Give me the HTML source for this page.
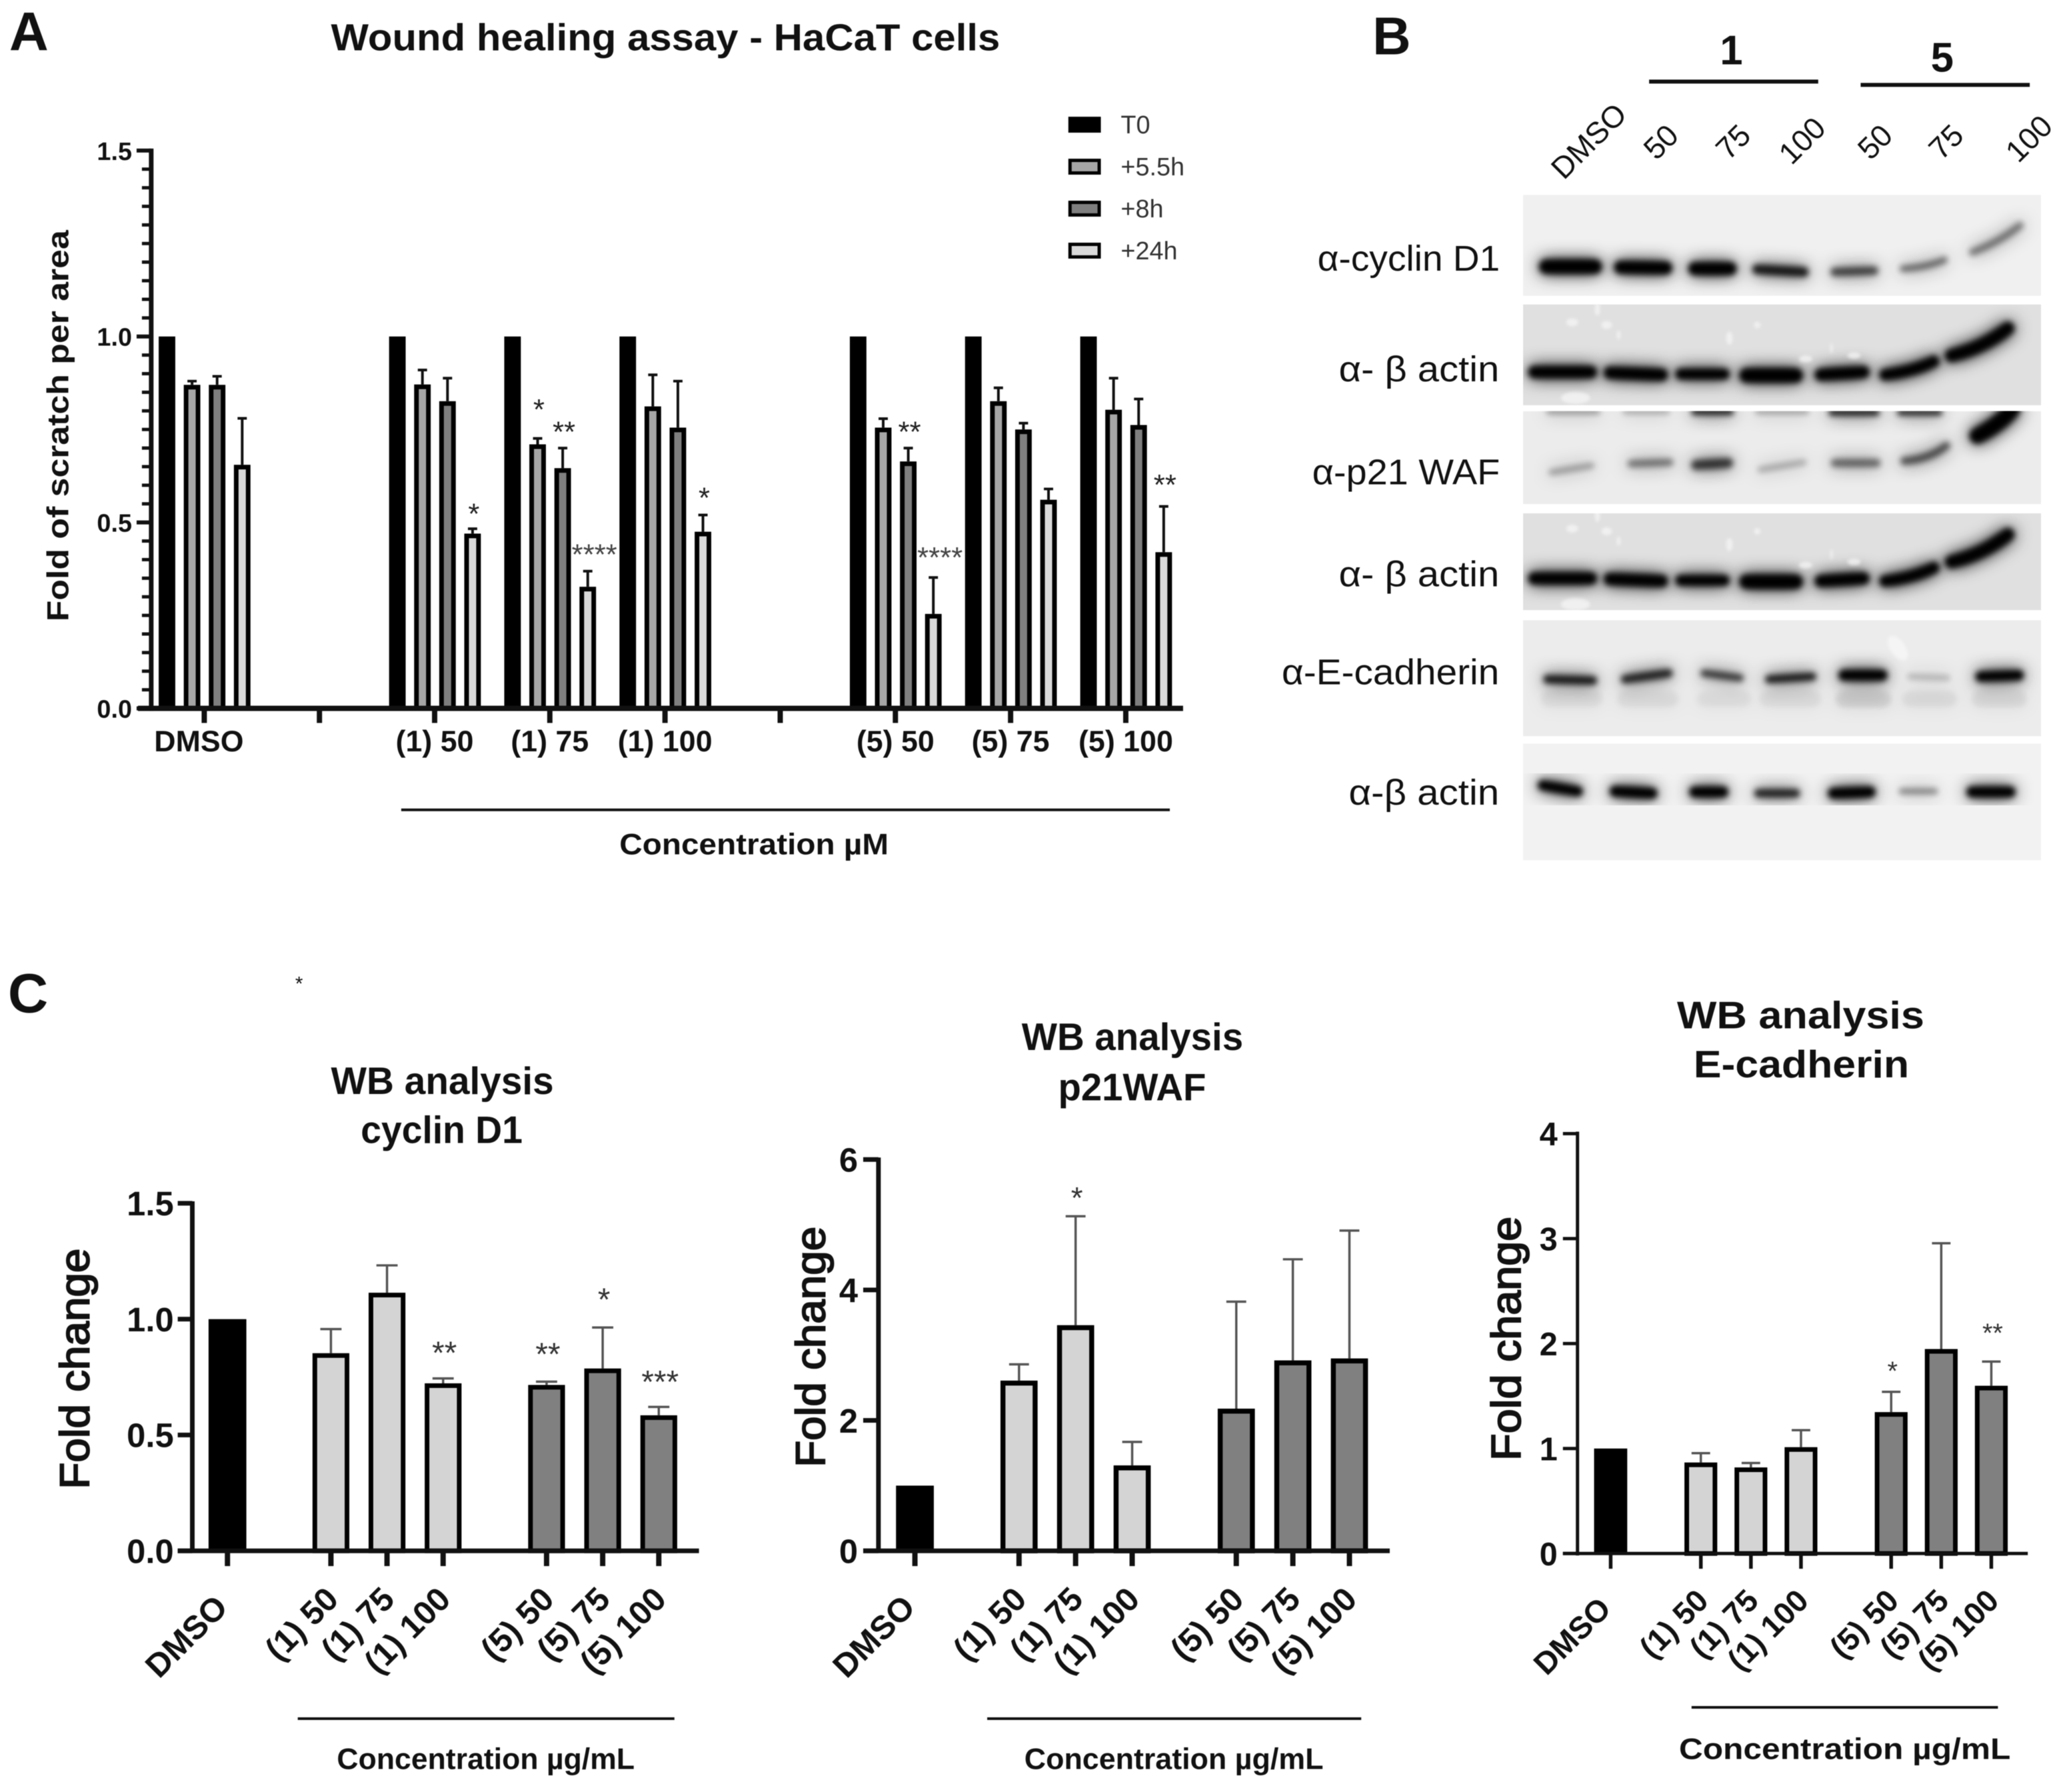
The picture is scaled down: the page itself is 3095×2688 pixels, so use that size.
<!DOCTYPE html>
<html lang="en">
<head>
<meta charset="utf-8">
<title>Wound healing assay and WB analysis</title>
<style>
html,body{margin:0;padding:0;background:#fff}
svg{display:block;filter:blur(0.6px)}
text{font-family:"Liberation Sans","DejaVu Sans",sans-serif;fill:#111}
.b{font-weight:bold}
</style>
</head>
<body>
<svg id="fig" xmlns="http://www.w3.org/2000/svg" width="3095" height="2688" viewBox="0 0 3095 2688">
<defs>
<filter id="bandBlur" x="-30%" y="-150%" width="160%" height="400%" filterUnits="objectBoundingBox">
<feGaussianBlur in="SourceGraphic" stdDeviation="13" result="halo"/>
<feGaussianBlur in="SourceGraphic" stdDeviation="4.5" result="core"/>
<feMerge><feMergeNode in="halo"/><feMergeNode in="core"/></feMerge>
</filter>
<filter id="speckBlur"><feGaussianBlur stdDeviation="2.4"/></filter>
<clipPath id="clip1"><rect x="2287" y="294" width="781" height="152"/></clipPath>
<clipPath id="clip2"><rect x="2287" y="459" width="781" height="152"/></clipPath>
<clipPath id="clip3"><rect x="2287" y="620" width="781" height="140"/></clipPath>
<clipPath id="clip4"><rect x="2287" y="774" width="781" height="146"/></clipPath>
<clipPath id="clip5"><rect x="2287" y="935" width="781" height="175"/></clipPath>
<clipPath id="clip6"><rect x="2287" y="1121" width="781" height="176"/></clipPath>
</defs>
<rect width="3095" height="2688" fill="#fff"/>

<g transform="scale(.9949)">
<text x="14" y="76" class="b" font-size="82">A</text>
<text x="499" y="76" class="b" font-size="57" textLength="1009" lengthAdjust="spacingAndGlyphs">Wound healing assay - HaCaT cells</text>
<text transform="translate(103,937) rotate(-90)" class="b" font-size="46" textLength="590" lengthAdjust="spacingAndGlyphs">Fold of scratch per area</text>
<rect x="605" y="1219" width="1159" height="4" fill="#111"/>
<text x="934" y="1288" class="b" font-size="45" textLength="406" lengthAdjust="spacingAndGlyphs">Concentration µM</text>
<g id="panelA"></g>
</g>

<!-- Panel B -->
<g transform="translate(9.69,0) scale(.9949)">
<text x="2060" y="82" class="b" font-size="80">B</text>
<text x="2601" y="97" class="b" font-size="62" text-anchor="middle">1</text>
<rect x="2477" y="120" width="255" height="6" fill="#111"/>
<text x="2919" y="108" class="b" font-size="62" text-anchor="middle">5</text>
<rect x="2796" y="125" width="255" height="6" fill="#111"/>
<g font-size="46" text-anchor="end">
<text transform="translate(2446,175) rotate(-45)">DMSO</text>
<text transform="translate(2524,207) rotate(-45)">50</text>
<text transform="translate(2633,207) rotate(-45)">75</text>
<text transform="translate(2746,196) rotate(-45)">100</text>
<text transform="translate(2847,207) rotate(-45)">50</text>
<text transform="translate(2954,207) rotate(-45)">75</text>
<text transform="translate(3088,193) rotate(-45)">100</text>
</g>
<g font-size="54">
<text x="1977" y="408" textLength="275" lengthAdjust="spacingAndGlyphs">α-cyclin D1</text>
<text x="2009" y="575" textLength="242" lengthAdjust="spacingAndGlyphs">α- β actin</text>
<text x="1969" y="730" textLength="283" lengthAdjust="spacingAndGlyphs">α-p21 WAF</text>
<text x="2009" y="884" textLength="242" lengthAdjust="spacingAndGlyphs">α- β actin</text>
<text x="1923" y="1032" textLength="328" lengthAdjust="spacingAndGlyphs">α-E-cadherin</text>
<text x="2024" y="1213" textLength="227" lengthAdjust="spacingAndGlyphs">α-β actin</text>
</g>

<g clip-path="url(#clip1)">
<rect x="2287" y="294" width="781" height="152" fill="#f0f0f0"/>
<g fill="none" stroke="#000" stroke-linecap="round" filter="url(#bandBlur)">
<path d="M2322 402H2395" stroke-width="22"/>
<path d="M2434 403L2502 404" stroke-width="20"/>
<path d="M2546 405H2599" stroke-width="20"/>
<path d="M2640 406L2710 410" stroke-width="15" opacity=".85"/>
<path d="M2757 410L2816 408" stroke-width="13" opacity=".65"/>
<path d="M2860 405Q2895 403 2922 392" stroke-width="10" opacity=".5"/>
<path d="M2965 380Q3005 365 3036 340" stroke-width="11" opacity=".45"/>
</g>
</g>

<g clip-path="url(#clip2)">
<rect x="2287" y="459" width="781" height="152" fill="#e0e0e0"/>
<g id="actinContent">
<g fill="none" stroke="#000" stroke-linecap="round" filter="url(#bandBlur)">
<path d="M2304 561H2389" stroke-width="19"/>
<path d="M2418 562L2496 565" stroke-width="19"/>
<path d="M2525 564H2590" stroke-width="17"/>
<path d="M2624 566H2698" stroke-width="22"/>
<path d="M2736 565L2800 561" stroke-width="19"/>
<path d="M2833 565Q2875 560 2906 545" stroke-width="18"/>
<path d="M2933 536Q2980 525 3018 495" stroke-width="20"/>
</g>
<g fill="#f6f6f6" opacity=".75" filter="url(#speckBlur)">
<ellipse cx="2399" cy="466" rx="4" ry="10"/>
<ellipse cx="2361" cy="486" rx="9" ry="6"/>
<ellipse cx="2413" cy="490" rx="8" ry="6"/>
<ellipse cx="2431" cy="505" rx="3" ry="7"/>
<ellipse cx="2366" cy="600" rx="22" ry="9"/>
<ellipse cx="2598" cy="510" rx="5" ry="10"/>
<ellipse cx="2640" cy="490" rx="5" ry="5"/>
<ellipse cx="2713" cy="541" rx="10" ry="5"/>
<ellipse cx="2786" cy="536" rx="10" ry="5"/>
<ellipse cx="2752" cy="525" rx="2" ry="8"/>
</g>
</g>
</g>

<g clip-path="url(#clip3)">
<rect x="2287" y="620" width="781" height="140" fill="#ececec"/>
<g fill="none" stroke="#000" stroke-linecap="round" filter="url(#bandBlur)">
<path d="M2325 621H2400" stroke-width="6" opacity=".4"/>
<path d="M2440 621H2505" stroke-width="6" opacity=".3"/>
<path d="M2545 621H2600" stroke-width="9" opacity=".9"/>
<path d="M2640 621H2715" stroke-width="6" opacity=".35"/>
<path d="M2752 622H2820" stroke-width="9" opacity=".9"/>
<path d="M2855 622H2915" stroke-width="8" opacity=".9"/>
<path d="M2330 712L2390 702" stroke-width="9" opacity=".3"/>
<path d="M2450 699L2508 697" stroke-width="11" opacity=".45"/>
<path d="M2548 701L2596 698" stroke-width="15" opacity=".7"/>
<path d="M2645 708L2710 697" stroke-width="9" opacity=".25"/>
<path d="M2757 698H2820" stroke-width="12" opacity=".5"/>
<path d="M2862 695Q2900 692 2925 672" stroke-width="12" opacity=".6"/>
<path d="M2972 657Q3005 640 3024 618" stroke-width="24"/>
</g>
</g>

<g clip-path="url(#clip4)">
<rect x="2287" y="774" width="781" height="146" fill="#e0e0e0"/>
<use href="#actinContent" y="311"/>
</g>

<g clip-path="url(#clip5)">
<rect x="2287" y="935" width="781" height="175" fill="#ececec"/>
<g fill="none" stroke="#000" stroke-linecap="round" filter="url(#bandBlur)">
<path d="M2325 1054H2395" stroke-width="24" opacity=".06"/>
<path d="M2440 1054H2510" stroke-width="24" opacity=".06"/>
<path d="M2560 1054H2620" stroke-width="24" opacity=".05"/>
<path d="M2655 1054H2725" stroke-width="24" opacity=".06"/>
<path d="M2770 1054H2830" stroke-width="24" opacity=".1"/>
<path d="M2870 1054H2930" stroke-width="24" opacity=".06"/>
<path d="M2975 1054H3035" stroke-width="24" opacity=".07"/>
<path d="M2324 1024L2392 1026" stroke-width="13" opacity=".85"/>
<path d="M2441 1024L2506 1015" stroke-width="13" opacity=".8"/>
<path d="M2560 1015L2614 1022" stroke-width="11" opacity=".7"/>
<path d="M2658 1024L2723 1020" stroke-width="12" opacity=".85"/>
<path d="M2771 1018H2828" stroke-width="17"/>
<path d="M2870 1020L2927 1022" stroke-width="8" opacity=".22"/>
<path d="M2977 1020L3034 1018" stroke-width="16"/>
</g>
<ellipse cx="2852" cy="977" rx="11" ry="21" fill="#f8f8f8" opacity=".8" filter="url(#speckBlur)" transform="rotate(-35 2852 977)"/>
</g>

<g clip-path="url(#clip6)">
<rect x="2287" y="1121" width="781" height="176" fill="#f2f2f2"/>
<g fill="none" stroke="#000" stroke-linecap="round" filter="url(#bandBlur)">
<path d="M2317 1184L2369 1193" stroke-width="16"/>
<path d="M2426 1193L2481 1196" stroke-width="17"/>
<path d="M2546 1194H2588" stroke-width="17"/>
<path d="M2642 1196H2698" stroke-width="13" opacity=".8"/>
<path d="M2755 1196L2810 1194" stroke-width="17"/>
<path d="M2858 1193H2908" stroke-width="9" opacity=".4"/>
<path d="M2964 1194H3021" stroke-width="17"/>
</g>
</g>
</g>

<!-- Panel C -->
<g transform="translate(0,7.14) scale(.9949)">
<text x="12" y="1519" class="b" font-size="84">C</text>
<text x="451" y="1486" font-size="30" fill="#444" text-anchor="middle">*</text>
<text x="499" y="1642" class="b" font-size="58" textLength="336" lengthAdjust="spacingAndGlyphs">WB analysis</text>
<text x="544" y="1716" class="b" font-size="58" textLength="244" lengthAdjust="spacingAndGlyphs">cyclin D1</text>
<text transform="translate(134,2238) rotate(-90)" font-size="62" stroke="#111" stroke-width="2" textLength="363" lengthAdjust="spacingAndGlyphs">Fold change</text>
<rect x="449" y="2582" width="568" height="4" fill="#111"/>
<text x="508" y="2660" class="b" font-size="45" textLength="449" lengthAdjust="spacingAndGlyphs">Concentration µg/mL</text>
<g id="chartCyclin"></g>
</g>

<g transform="translate(5.61,7.14) scale(.9949)">
<text x="1535" y="1576" class="b" font-size="58" textLength="334" lengthAdjust="spacingAndGlyphs">WB analysis</text>
<text x="1590" y="1652" class="b" font-size="58" textLength="223" lengthAdjust="spacingAndGlyphs">p21WAF</text>
<text transform="translate(1238,2205) rotate(-90)" font-size="62" stroke="#111" stroke-width="2" textLength="363" lengthAdjust="spacingAndGlyphs">Fold change</text>
<rect x="1483" y="2582" width="564" height="4" fill="#111"/>
<text x="1539" y="2660" class="b" font-size="45" textLength="451" lengthAdjust="spacingAndGlyphs">Concentration µg/mL</text>
<g id="chartP21"></g>
</g>

<g transform="translate(10.71,7.14) scale(.9949)">
<text x="2518" y="1543" class="b" font-size="58" textLength="373" lengthAdjust="spacingAndGlyphs">WB analysis</text>
<text x="2543" y="1617" class="b" font-size="58" textLength="325" lengthAdjust="spacingAndGlyphs">E-cadherin</text>
<text transform="translate(2282,2195) rotate(-90)" font-size="62" stroke="#111" stroke-width="2" textLength="368" lengthAdjust="spacingAndGlyphs">Fold change</text>
<rect x="2540" y="2565" width="462" height="4" fill="#111"/>
<text x="2521" y="2645" class="b" font-size="45" textLength="500" lengthAdjust="spacingAndGlyphs">Concentration µg/mL</text>
<g id="chartEcad"></g>
</g>
</svg>

<script>
// ---------- Panel A data ----------
var woundCategories = ['DMSO', '', '(1) 50', '(1) 75', '(1) 100', '', '(5) 50', '(5) 75', '(5) 100'];
var woundSeriesNames = ['T0', '+5.5h', '+8h', '+24h'];
var woundSeriesFills = ['#000000', '#a6a6a6', '#7f7f7f', '#d9d9d9'];
var woundT0 = [1, null, 1, 1, 1, null, 1, 1, 1];
var wound55h = [0.87, null, 0.871, 0.71, 0.812, null, 0.755, 0.826, 0.803];
var wound8h = [0.87, null, 0.826, 0.646, 0.755, null, 0.664, 0.75, 0.762];
var wound24h = [0.655, null, 0.47, 0.327, 0.475, null, 0.254, 0.561, 0.42];
var wound55hErr = [0.88, null, 0.91, 0.726, 0.897, null, 0.779, 0.862, 0.888];
var wound8hErr = [0.893, null, 0.888, 0.70, 0.88, null, 0.70, 0.767, 0.832];
var wound24hErr = [0.78, null, 0.483, 0.369, 0.52, null, 0.352, 0.59, 0.543];
var woundYTicks = ['0.0', '0.5', '1.0', '1.5'];
var woundSigGroup = [2, 3, 3, 3, 4, 6, 6, 8];
var woundSigSeries = [3, 1, 2, 3, 3, 2, 3, 3];
var woundSigLevel = [0.53, 0.81, 0.75, 0.42, 0.573, 0.75, 0.412, 0.608];
var woundSigLabel = ['*', '*', '**', '****', '*', '**', '****', '**'];

// ---------- Panel C data ----------
var wbCategories = ['DMSO', '(1) 50', '(1) 75', '(1) 100', '(5) 50', '(5) 75', '(5) 100'];
var wbGroups = [0, 1, 1, 1, 2, 2, 2];
var wbFills = ['#000000', '#d4d4d4', '#808080'];

var cyclinValues = [1.0, 0.853, 1.114, 0.723, 0.716, 0.787, 0.585];
var cyclinErrTop = [null, 0.957, 1.232, 0.744, 0.73, 0.964, 0.621];
var cyclinTicks = ['0.0', '0.5', '1.0', '1.5'];
var cyclinSig = ['', '', '', '**', '**', '*', '***'];
var cyclinSigLevel = [null, null, null, 0.865, 0.86, 1.095, 0.74];

var p21Values = [1.0, 2.61, 3.46, 1.31, 2.18, 2.92, 2.95];
var p21ErrTop = [null, 2.86, 5.13, 1.67, 3.82, 4.47, 4.91];
var p21Ticks = ['0', '2', '4', '6'];
var p21Sig = ['', '', '*', '', '', '', ''];
var p21SigLevel = [null, null, 5.45, null, null, null, null];

var ecadValues = [1.0, 0.867, 0.82, 1.013, 1.347, 1.948, 1.598];
var ecadErrTop = [null, 0.956, 0.862, 1.175, 1.54, 2.956, 1.828];
var ecadTicks = ['0', '1', '2', '3', '4'];
var ecadSig = ['', '', '', '', '*', '', '**'];
var ecadSigLevel = [null, null, null, null, 1.76, null, 2.12];

// ---------- helpers ----------
var NS = 'http://www.w3.org/2000/svg';
function mk(parent, tag, attrs) {
  var e = document.createElementNS(NS, tag);
  for (var k in attrs) e.setAttribute(k, attrs[k]);
  parent.appendChild(e);
  return e;
}
function linear(d0, d1, r0, r1) {
  return function (v) { return r0 + (v - d0) * (r1 - r0) / (d1 - d0); };
}

// ---------- Panel A ----------
(function () {
  var g = document.getElementById('panelA');
  var y = linear(0, 1.5, 1068, 227);
  var xGroup = function (i) { return 308 + 173.7 * i; };
  var xBar = function (i, s) { return xGroup(i) + (s - 1.5) * 37.8 + 0.5; };
  var series = [woundT0, wound55h, wound8h, wound24h];
  var errs = [null, wound55hErr, wound8hErr, wound24hErr];
  var barW = 25;

  woundCategories.forEach(function (cat, i) {
    series.forEach(function (vals, s) {
      if (vals[i] === null) return;
      var cx = xBar(i, s);
      if (errs[s]) {
        var eb = mk(g, 'path', { d: 'M' + cx + ' ' + y(vals[i]) + 'V' + y(errs[s][i]) + 'M' + (cx - 7) + ' ' + y(errs[s][i]) + 'H' + (cx + 7), stroke: '#111', 'stroke-width': 4, fill: 'none' });
        
        
      }
      var sw = s === 0 ? 0 : 7;
      var r = mk(g, 'rect', { x: cx - barW / 2 + sw / 2, y: y(vals[i]) + sw / 2, width: barW - sw, height: y(0) - y(vals[i]) - sw / 2, fill: woundSeriesFills[s], stroke: '#000', 'stroke-width': sw });
      
      
    });
    var tk = mk(g, 'rect', { x: xGroup(i) - 4, y: 1068, width: 8, height: 22, fill: '#111' });
    
    
    if (cat) {
      var lb = mk(g, 'text', { x: xGroup(i) - (i === 0 ? 8 : 0), y: 1133, 'text-anchor': 'middle', 'font-size': 45, 'font-weight': 'bold' });
      lb.textContent = cat;
      
      
    }
  });

  var yAxis = mk(g, 'rect', { x: 224.5, y: 224, width: 7, height: 848, fill: '#111' });
  
  
  var xAxis = mk(g, 'rect', { x: 208, y: 1064, width: 1576, height: 8, fill: '#111' });
  
  

  for (var m = 0; m <= 30; m++) {
    var major = m % 10 === 0;
    var t = mk(g, 'rect', { x: major ? 206 : 214, y: y(m / 20) - (major ? 3 : 2.5), width: major ? 22 : 14, height: major ? 6 : 5, fill: '#111' });
    
    
  }
  woundYTicks.forEach(function (lab) {
    var tl = mk(g, 'text', { x: 199, y: y(parseFloat(lab)) + 14, 'text-anchor': 'end', 'font-size': 38, 'font-weight': 'bold' });
    tl.textContent = lab;
    
    
  });

  woundSigLabel.forEach(function (lab, k) {
    var fs = 44;
    var st = mk(g, 'text', { x: xBar(woundSigGroup[k], woundSigSeries[k]) + (lab.length === 4 ? 10 : 2), y: y(woundSigLevel[k]) + 0.42 * fs, 'text-anchor': 'middle', 'font-size': fs });
    st.style.fill = lab.length === 4 ? '#444' : '#222';
    st.textContent = lab;
    
    
  });

  woundSeriesNames.forEach(function (name, s) {
    var ly = 188 + s * 63.3;
    var sw = s === 0 ? 0 : 5;
    var sq = mk(g, 'rect', { x: 1611 + sw / 2, y: ly - 12 + sw / 2, width: 49 - sw, height: 24 - sw, fill: woundSeriesFills[s], stroke: '#000', 'stroke-width': sw });
    
    
    var tx = mk(g, 'text', { x: 1690, y: ly + 13, 'font-size': 38 });
    tx.style.fill = '#333';
    tx.textContent = name;
    
    
  });
})();

// ---------- Panel C ----------
function wbChart(id, prefix, o, values, errTop, ticks, sig, sigLevel) {
  var g = document.getElementById(id);
  var maxV = parseFloat(ticks[ticks.length - 1]);
  var y = linear(0, maxV, o.y0, o.yTop);
  var x = function (i) { return o.x0 + o.step * i + o.gap * wbGroups[i]; };

  wbCategories.forEach(function (cat, i) {
    var cx = x(i);
    if (errTop[i] !== null) {
      var eb = mk(g, 'path', { d: 'M' + cx + ' ' + y(values[i]) + 'V' + y(errTop[i]) + 'M' + (cx - o.cap) + ' ' + y(errTop[i]) + 'H' + (cx + o.cap), stroke: '#555', 'stroke-width': 3.5, fill: 'none' });
      
      
    }
    var sw = i === 0 ? 0 : o.barStroke;
    var w = i === 0 ? o.blackW : o.barW;
    var r = mk(g, 'rect', { x: cx - w / 2 + sw / 2, y: y(values[i]) + sw / 2, width: w - sw, height: y(0) - y(values[i]) - sw / 2, fill: wbFills[wbGroups[i]], stroke: '#000', 'stroke-width': sw });
    
    
    var t = mk(g, 'rect', { x: cx - o.tickW / 2, y: o.y0, width: o.tickW, height: 23, fill: '#111' });
    
    
    var px = cx + (i === 0 ? 3 : 14), py = o.labelY + (i === 0 ? 12 : 0);
    var lb = mk(g, 'text', { transform: 'translate(' + px + ',' + py + ') rotate(-45)', 'text-anchor': 'end', 'font-size': o.labelSize, 'font-weight': 'bold' });
    lb.textContent = cat;
    
    
    if (sig[i]) {
      var st = mk(g, 'text', { x: cx + 2, y: y(sigLevel[i]) + 0.42 * o.starSize, 'text-anchor': 'middle', 'font-size': o.starSize });
      st.style.fill = '#333';
      st.textContent = sig[i];
      
      
    }
  });

  var ya = mk(g, 'rect', { x: o.axisX - o.axisW / 2, y: o.yTop - 3, width: o.axisW, height: o.y0 - o.yTop + 6, fill: '#111' });
  
  
  var xa = mk(g, 'rect', { x: o.xLeft, y: o.y0 - o.axisW / 2, width: o.xRight - o.xLeft, height: o.axisW, fill: '#111' });
  
  

  ticks.forEach(function (lab) {
    var v = parseFloat(lab);
    var t = mk(g, 'rect', { x: o.xLeft, y: y(v) - o.axisW / 2, width: o.axisX - o.xLeft, height: o.axisW, fill: '#111' });
    
    
    var tl = mk(g, 'text', { x: o.xLeft - o.tickGap, y: y(v) + 0.36 * o.tickSize, 'text-anchor': 'end', 'font-size': o.tickSize, 'font-weight': 'bold' });
    tl.textContent = lab;
    
    
  });
}

wbChart('chartCyclin', 'cyclin',
  { x0: 343, step: 84.6, gap: 71.4, y0: 2331, yTop: 1807, axisX: 290, xLeft: 268, xRight: 1054, axisW: 7, tickW: 8, barW: 55.5, blackW: 57, barStroke: 7, cap: 16, labelY: 2407, labelSize: 50, tickSize: 51, tickGap: 6, starSize: 48 },
  cyclinValues, cyclinErrTop, cyclinTicks, cyclinSig, cyclinSigLevel);

wbChart('chartP21', 'p21',
  { x0: 1374, step: 85.3, gap: 71.7, y0: 2331, yTop: 1741, axisX: 1319, xLeft: 1296, xRight: 2090, axisW: 7, tickW: 8, barW: 56, blackW: 57, barStroke: 7.5, cap: 15, labelY: 2407, labelSize: 50, tickSize: 51, tickGap: 8, starSize: 46 },
  p21Values, p21ErrTop, p21Ticks, p21Sig, p21SigLevel);

wbChart('chartEcad', 'ecad',
  { x0: 2418, step: 75.5, gap: 60.5, y0: 2335, yTop: 1702, axisX: 2368, xLeft: 2346, xRight: 3047, axisW: 5, tickW: 5.5, barW: 49.5, blackW: 50, barStroke: 7, cap: 14, labelY: 2409, labelSize: 47, tickSize: 49, tickGap: 8, starSize: 40 },
  ecadValues, ecadErrTop, ecadTicks, ecadSig, ecadSigLevel);
</script>
</body>
</html>
